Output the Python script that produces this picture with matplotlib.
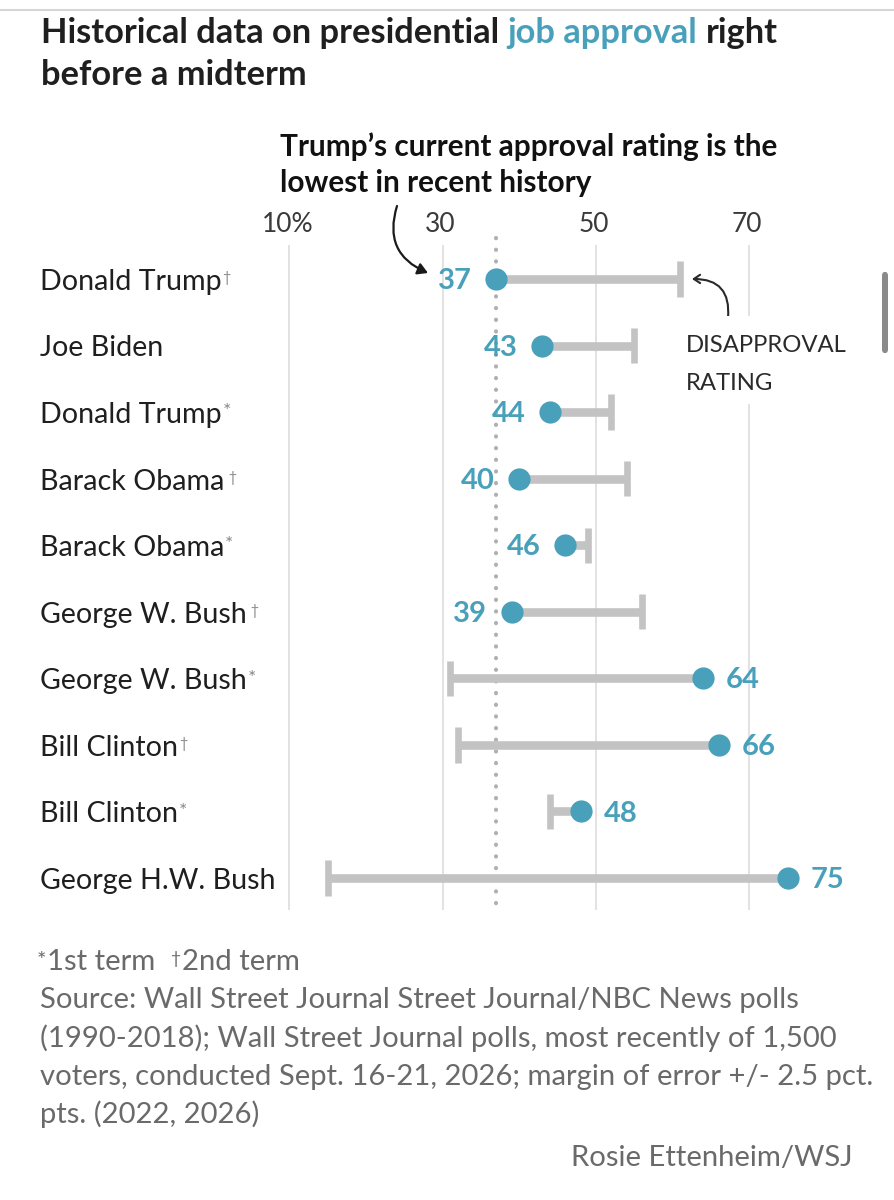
import matplotlib
matplotlib.use("Agg")
import matplotlib.pyplot as plt
from matplotlib.patches import FancyBboxPatch, Rectangle
from matplotlib.lines import Line2D
from matplotlib.text import Annotation

# ---------------- data ----------------
names = ["Donald Trump", "Joe Biden", "Donald Trump", "Barack Obama", "Barack Obama",
         "George W. Bush", "George W. Bush", "Bill Clinton", "Bill Clinton", "George H.W. Bush"]
terms = ["†", "", "*", " †", "*", " †", "*", "†", "*", ""]
approval = [37, 43, 44, 40, 46, 39, 64, 66, 48, 75]
disapproval = [61, 55, 52, 54, 49, 56, 31, 32, 44, 15]
xticks = [10, 30, 50, 70]
xtick_labels = ["10%", "30", "50", "70"]

title_parts = ["Historical data on presidential", "job approval", "right"]
title_line2 = "before a midterm"
note_lines = ["Trump\u2019s current approval rating is the", "lowest in recent history"]
disapproval_lines = ["DISAPPROVAL", "RATING"]
legend_parts = [("*", "1st term"), ("†", "2nd term")]
footnote_lines = [
    "Source: Wall Street Journal Street Journal/NBC News polls",
    "(1990-2018); Wall Street Journal polls, most recently of 1,500",
    "voters, conducted Sept. 16-21, 2026; margin of error +/- 2.5 pct.",
    "pts. (2022, 2026)",
]
credit = "Rosie Ettenheim/WSJ"

# ---------------- style ----------------
TEAL = "#49a0bb"
BAR = "#c3c3c3"
GRID = "#e2e2e2"
DARK = "#1f1f1f"
FOOT = "#6a6a6a"
FONT = "Lato"
NARROW = ["Liberation Sans Narrow", "Lato"]

W, H = 895, 1200
fig = plt.figure(figsize=(W / 100, H / 100), dpi=100)
fig.patch.set_facecolor("white")
renderer = fig.canvas.get_renderer()


def fx(px):
    return px / W


def fy(py):
    return 1 - py / H


def fit(t, target_px):
    w = t.get_window_extent(renderer).width
    t.set_fontsize(t.get_fontsize() * target_px / w)
    return t.get_fontsize()


ROW0, ROWSTEP = 279, 66.56
AX_TOP, AX_BOT = 230, 920


def yd(py):
    return (py - ROW0) / ROWSTEP


PX_PER_UNIT = (749.3 - 289.3) / 60.0
AX_L, AX_R = 250, 860
ax = fig.add_axes([fx(AX_L), fy(AX_BOT), (AX_R - AX_L) / W, (AX_BOT - AX_TOP) / H])
ax.set_xlim(10 - (289.3 - AX_L) / PX_PER_UNIT, 70 + (AX_R - 749.3) / PX_PER_UNIT)
ax.set_ylim(yd(AX_BOT), yd(AX_TOP))
ax.axis("off")

rows = list(range(len(names)))

# gridlines + tick labels
ax.vlines(xticks, yd(245), yd(910), color=GRID, lw=1.4, zorder=0)
for xv, lab in zip(xticks, xtick_labels):
    ax.annotate(lab, xy=(xv, yd(232)), xycoords="data", xytext=(-1.5, 0),
                textcoords="offset points", ha="center", va="baseline",
                fontsize=19, family=NARROW, color="#3a3a3a", annotation_clip=False)

# dotted reference line at current approval
ax.plot([approval[0], approval[0]], [yd(238), yd(904)], color="#b0b0b0", lw=3,
        ls=(0, (0.05, 2.75)), dash_capstyle="round", zorder=1, clip_on=False)

# bars, caps, dots
ax.hlines(rows, approval, disapproval, color=BAR, lw=6.2, zorder=2)
ax.vlines(disapproval, [r - 0.265 for r in rows], [r + 0.265 for r in rows],
          color=BAR, lw=4.8, zorder=2)
ax.plot(approval, rows, "o", ms=16, color=TEAL, mec="none", zorder=4, clip_on=False)

for r, a, d in zip(rows, approval, disapproval):
    if a < d:
        off, ha = -17.5, "right"
    else:
        off, ha = 16.5, "left"
    ax.annotate(str(a), xy=(a, r), xytext=(off, -7.3), textcoords="offset points",
                ha=ha, va="baseline", fontsize=21, fontweight="bold", family=FONT,
                color=TEAL, annotation_clip=False)

# names
name_fs = None
for r, n, t in zip(rows, names, terms):
    txt = ax.annotate(n, xy=(40, r), xycoords=("figure pixels", "data"),
                      xytext=(0, -7.8), textcoords="offset points",
                      ha="left", va="baseline", fontsize=21, family=FONT,
                      color=DARK, annotation_clip=False)
    if name_fs is None:
        name_fs = fit(txt, 181)
    txt.set_fontsize(name_fs)
    if t:
        big = "*" in t
        ax.annotate(t, xy=(1, 1), xycoords=txt, xytext=(0.5, -1.0 if big else -1.5),
                    textcoords="offset points", ha="left", va="top",
                    fontsize=14 if big else 10.5, family=FONT, color="#888888",
                    annotation_clip=False)

# disapproval annotation: white patch breaks the 70 gridline
fig.add_artist(Rectangle((fx(680), fy(404)), 172 / W, 88 / H, transform=fig.transFigure,
                         fc="white", ec="none", zorder=3))
d1 = fig.text(fx(686), fy(352), disapproval_lines[0], fontsize=20, family=NARROW,
              color="#2a2a2a", va="baseline", zorder=4)
dfs = fit(d1, 161)
fig.text(fx(686), fy(390), disapproval_lines[1], fontsize=dfs, family=NARROW,
         color="#2a2a2a", va="baseline", zorder=4)

ax.annotate("", xy=(692, H - 279), xycoords="figure pixels",
            xytext=(728, H - 318), textcoords="figure pixels",
            arrowprops=dict(arrowstyle="->,head_length=0.45,head_width=0.3",
                            connectionstyle="arc3,rad=0.55", color="#2a2a2a", lw=1.5,
                            shrinkA=0, shrinkB=0))

# arrow from note to Trump's dot label
ax.annotate("", xy=(428, H - 273), xycoords="figure pixels",
            xytext=(397, H - 206), textcoords="figure pixels",
            arrowprops=dict(arrowstyle="-|>,head_length=0.6,head_width=0.35",
                            connectionstyle="arc3,rad=0.45", color="#1a1a1a", lw=1.6,
                            shrinkA=0, shrinkB=0))

# ---------------- title ----------------
probe = fig.text(fx(41), fy(43), " ".join(title_parts), fontsize=22, fontweight="bold",
                 family=FONT, va="baseline")
tfs = fit(probe, 735)
probe.remove()

t1 = fig.text(fx(41), fy(43), title_parts[0], fontsize=tfs, fontweight="bold",
              family=FONT, color=DARK, va="baseline")
gap = tfs * 0.24
prev = t1
for part, col in zip(title_parts[1:], [TEAL, DARK]):
    prev = fig.add_artist(Annotation(
        part, xy=(1, 0), xycoords=prev, xytext=(gap, 0), textcoords="offset points",
        ha="left", va="bottom", fontsize=tfs, fontweight="bold", family=FONT, color=col))
fig.text(fx(41), fy(85), title_line2, fontsize=tfs, fontweight="bold", family=FONT,
         color=DARK, va="baseline")

# note text
n1 = fig.text(fx(280), fy(156), note_lines[0], fontsize=19, fontweight="bold",
              family=FONT, color="#111111", va="baseline")
nfs = fit(n1, 496)
fig.text(fx(280), fy(192), note_lines[1], fontsize=nfs, fontweight="bold",
         family=FONT, color="#111111", va="baseline")

# ---------------- footnotes ----------------
f0 = fig.text(fx(40), fy(1008), footnote_lines[0], fontsize=17,
              family=NARROW, color=FOOT, va="baseline")
ffs = fit(f0, 759)
for i, line in enumerate(footnote_lines[1:], start=1):
    fig.text(fx(40), fy(1008 + 38.5 * i), line, fontsize=ffs,
             family=NARROW, color=FOOT, va="baseline")

# legend line: *1st term  †2nd term
xs = [47, 182]
for (sym, lab), x0 in zip(legend_parts, xs):
    main = fig.text(fx(x0), fy(970), lab, fontsize=ffs, family=NARROW, color=FOOT,
                    va="baseline")
    fig.add_artist(Annotation(sym, xy=(0, 1), xycoords=main, xytext=(-0.5, -1.5),
                              textcoords="offset points", ha="right", va="top",
                              fontsize=ffs * (0.75 if sym == "*" else 0.6),
                              family=NARROW, color=FOOT))

fig.text(fx(853), fy(1166), credit, fontsize=ffs, family=NARROW,
         color=FOOT, ha="right", va="baseline")

# ---------------- screenshot chrome ----------------
fig.add_artist(Line2D([0, 1], [fy(10), fy(10)], transform=fig.transFigure,
                      color="#d6d6d6", lw=1.5))
fig.add_artist(FancyBboxPatch((fx(882), fy(353)), 6 / W, 81 / H,
                              boxstyle="round,pad=0,rounding_size=0.003",
                              transform=fig.transFigure, fc="#8a8a8a", ec="none"))

fig.savefig("out.png", dpi=100, facecolor="white")
